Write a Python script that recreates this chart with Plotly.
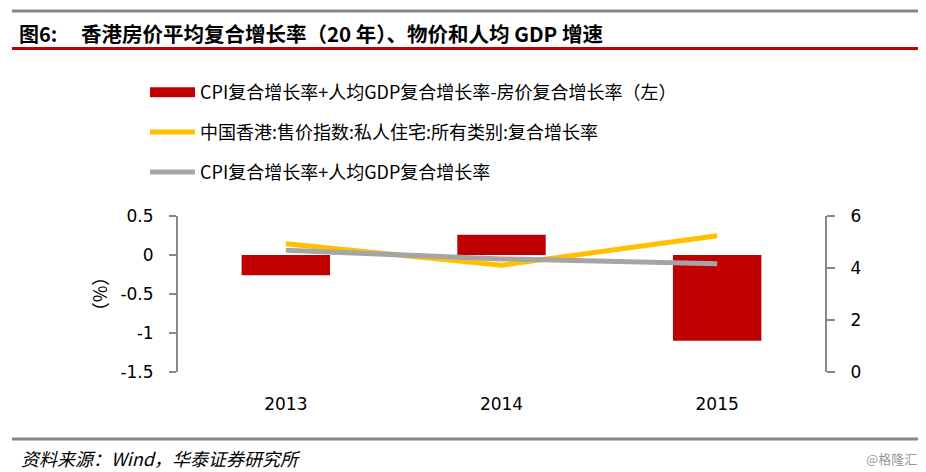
import plotly.graph_objects as go

# ---- data ----
years = ["2013", "2014", "2015"]
diff_rate = [-0.26, 0.26, -1.10]          # CPI+人均GDP-房价 (左轴)
hk_price_rate = [4.93, 4.11, 5.24]        # 中国香港售价指数复合增长率 (右轴)
cpi_gdp_rate = [4.68, 4.35, 4.16]         # CPI+人均GDP复合增长率 (右轴)
left_ticks = [0.5, 0, -0.5, -1, -1.5]
left_ticktext = ["0.5", "0", "-0.5", "-1", "-1.5"]
right_ticks = [0, 2, 4, 6]

name_bar = "CPI复合增长率+人均GDP复合增长率-房价复合增长率（左）"
name_yel = "中国香港:售价指数:私人住宅:所有类别:复合增长率"
name_gry = "CPI复合增长率+人均GDP复合增长率"

OFF = 8                     # page body margin of the html page
W, H = 926, 472
L, R, T, B = 178, 825, 216, 372   # plot area in reference px


def px_x(x):
    return (x - L) / (R - L)


def px_y(y):
    return (B - y) / (B - T)


CJK = "Noto Sans CJK SC"
TICKFONT = dict(family="DejaVu Sans", size=17, color="#000000")

fig = go.Figure()
fig.add_trace(go.Bar(
    x=years, y=diff_rate, name=name_bar, marker=dict(color="#C00000", line=dict(width=0)),
    width=0.41, yaxis="y", legendgroup="a", showlegend=False))
# legend entry for the bars (wide rectangle like the reference)
fig.add_trace(go.Scatter(
    x=[None], y=[None], name=name_bar, mode="lines",
    line=dict(color="#C00000", width=14), yaxis="y", legendgroup="a"))
fig.add_trace(go.Scatter(
    x=years, y=hk_price_rate, name=name_yel, mode="lines",
    line=dict(color="#FFC000", width=5), yaxis="y2", legendgroup="b"))
fig.add_trace(go.Scatter(
    x=years, y=cpi_gdp_rate, name=name_gry, mode="lines",
    line=dict(color="#A5A5A5", width=5), yaxis="y2", legendgroup="c"))

fig.update_layout(
    width=W - OFF, height=H - OFF,
    margin=dict(l=L - OFF, r=W - R, t=T - OFF, b=H - B, pad=0, autoexpand=False),
    paper_bgcolor="white", plot_bgcolor="white",
    showlegend=True,
    legend=dict(
        x=px_x(145), y=px_y(74),
        xanchor="left", yanchor="top",
        font=dict(family=CJK, size=18, color="#000000"),
        traceorder="grouped", tracegroupgap=13.5, itemwidth=45,
        bgcolor="rgba(0,0,0,0)"),
    xaxis=dict(
        type="category", categoryorder="array", categoryarray=years,
        range=[-0.5, 2.5], showline=False, showgrid=False, zeroline=False,
        ticks="", tickfont=TICKFONT, ticklabelstandoff=20, tickangle=0),
    xaxis2=dict(
        overlaying="x", anchor="free", position=0.75, range=[-0.5, 2.5],
        tickmode="array", tickvals=[0.5, 1.5], ticks="outside", ticklen=7,
        tickwidth=1.5, tickcolor="#888888", showticklabels=False,
        showline=True, linecolor="#888888", linewidth=2,
        showgrid=False, zeroline=False),
    yaxis=dict(
        range=[-1.5, 0.5], tickmode="array", tickvals=left_ticks,
        ticktext=left_ticktext, ticks="outside", ticklen=7, tickwidth=2,
        tickcolor="#888888", showline=True, linecolor="#888888", linewidth=2,
        showgrid=False, zeroline=False, tickfont=TICKFONT, ticklabelstandoff=12,
        title=dict(text="（%）", font=dict(family=CJK, size=18, color="#000"),
                   standoff=8)),
    yaxis2=dict(
        overlaying="y", side="right", range=[0, 6], tickmode="array",
        tickvals=right_ticks, ticks="outside", ticklen=8, tickwidth=2,
        tickcolor="#888888", showline=True, linecolor="#888888", linewidth=2,
        showgrid=False, zeroline=False, tickfont=TICKFONT, ticklabelstandoff=12),
)

# decorative rules
fig.add_shape(type="line", xref="paper", yref="paper", x0=px_x(12), x1=px_x(918),
              y0=px_y(11), y1=px_y(11), line=dict(color="#878787", width=3))
fig.add_shape(type="line", xref="paper", yref="paper", x0=px_x(12), x1=px_x(918),
              y0=px_y(48.5), y1=px_y(48.5), line=dict(color="#C00000", width=3))
fig.add_shape(type="line", xref="paper", yref="paper", x0=px_x(12), x1=px_x(918),
              y0=px_y(439), y1=px_y(439), line=dict(color="#878787", width=3))

# title and footer text
fig.add_annotation(text="<b>图6:</b>", xref="paper", yref="paper", x=px_x(17), y=px_y(33),
                   xanchor="left", yanchor="middle", showarrow=False,
                   font=dict(family=CJK, size=20, color="#000"))
fig.add_annotation(text="<b>香港房价平均复合增长率（20 年）、物价和人均 GDP 增速</b>",
                   xref="paper", yref="paper", x=px_x(79), y=px_y(33),
                   xanchor="left", yanchor="middle", showarrow=False,
                   font=dict(family=CJK, size=20.5, color="#000"))
fig.add_annotation(text="<i>资料来源：Wind，华泰证券研究所</i>", xref="paper", yref="paper",
                   x=px_x(19), y=px_y(458), xanchor="left", yanchor="middle",
                   showarrow=False, font=dict(family=CJK, size=18, color="#000"))
fig.add_annotation(text="@格隆汇", xref="paper", yref="paper",
                   x=px_x(919), y=px_y(458), xanchor="right", yanchor="middle",
                   showarrow=False, font=dict(family=CJK, size=13, color="#9a9a9a"))

fig.write_html("out.html")
